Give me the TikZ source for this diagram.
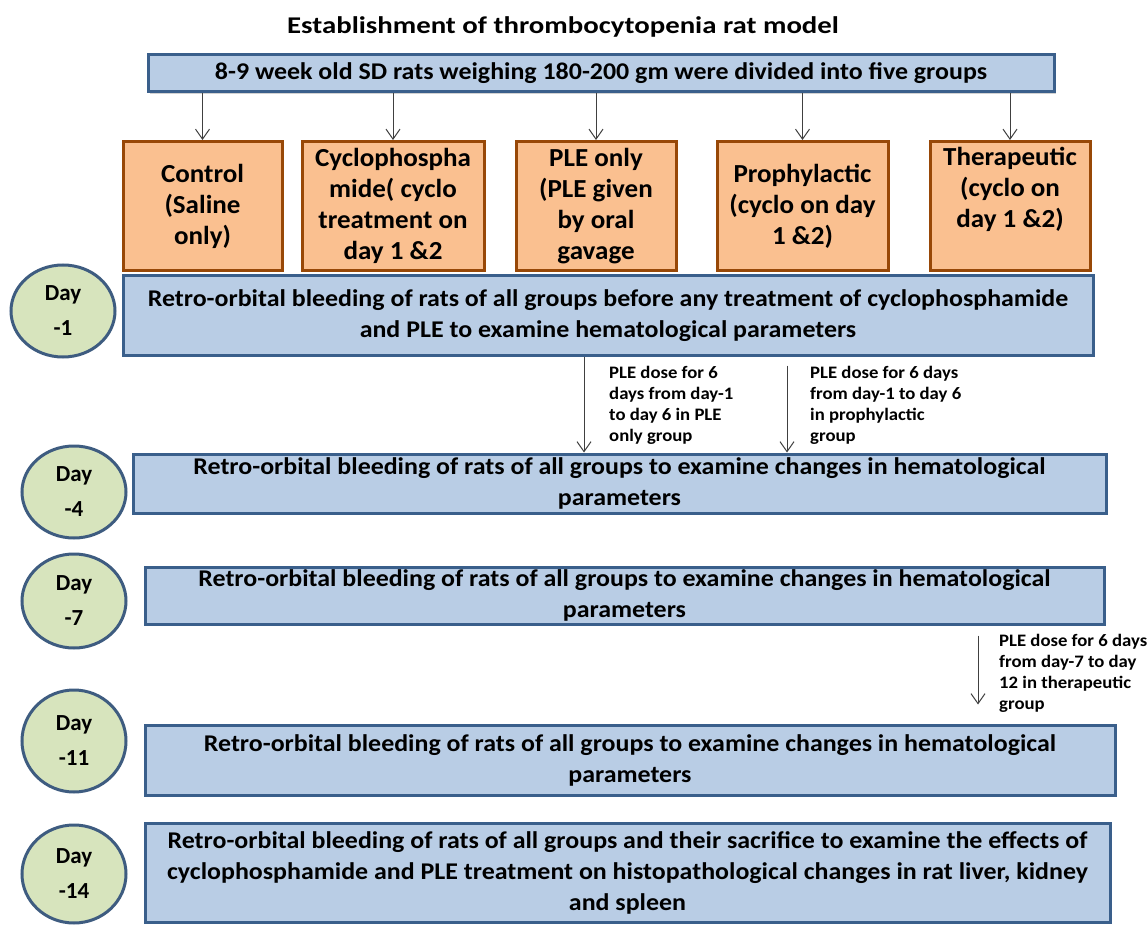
\documentclass[tikz,border=0pt]{standalone}
\usepackage{fontspec}
\setmainfont{Carlito}
\newfontfamily\boxfont{Carlito}[FakeStretch=1.08]
\newfontfamily\orfont{Carlito}[FakeStretch=1.04]
\newfontfamily\notefont{Carlito}[FakeStretch=1.07]
\newfontfamily\titlefont{Carlito}[FakeStretch=1.2]
\usetikzlibrary{arrows.meta,shadows,shapes.geometric}
\definecolor{boxblue}{HTML}{B9CDE5}
\definecolor{edgeblue}{HTML}{3A5F8B}
\definecolor{boxorange}{HTML}{FAC090}
\definecolor{edgeorange}{HTML}{984807}
\definecolor{daygreen}{HTML}{D7E4BD}
\definecolor{dayedge}{HTML}{3E5C80}
\definecolor{arrowgray}{HTML}{404040}
\tikzset{
  bluebox/.style={draw=edgeblue, fill=boxblue, line width=3pt, inner sep=0pt, align=center,
    font=\boxfont\fontsize{24}{31}\selectfont\bfseries},
  orangebox/.style={draw=edgeorange, fill=boxorange, line width=3pt, inner sep=0pt, align=center,
    minimum height=129pt, font=\orfont\fontsize{26}{31}\selectfont\bfseries},
  orangetext/.style={inner sep=0pt, align=center, font=\orfont\fontsize{26}{31}\selectfont\bfseries},
  daybubble/.style={ellipse, draw=dayedge, fill=daygreen, line width=3pt, inner sep=0pt, align=center,
    minimum width=104pt, font=\fontsize{23}{35}\selectfont\bfseries},
  flow/.style={draw=arrowgray, line width=1pt, -{Straight Barb[length=10pt,width=14pt]}},
  note/.style={anchor=north west, inner sep=0pt, align=left, font=\notefont\fontsize{17.5}{21}\selectfont\bfseries},
  titletext/.style={inner sep=0pt, anchor=base, font=\titlefont\fontsize{24}{30}\selectfont\bfseries},
}
\begin{document}
\begin{tikzpicture}[x=1pt,y=-1pt]
\useasboundingbox[fill=white] (0,0) rectangle (1148,925);

\node[titletext] (title) at (563,34) {Establishment of thrombocytopenia rat model};

\node[bluebox, minimum width=906pt, minimum height=37pt,
      drop shadow={opacity=0.35, shadow xshift=2pt, shadow yshift=-3pt}] (top) at (601,73)
  {8-9 week old SD rats weighing 180-200 gm were divided into five groups};

\node[orangebox, minimum width=159pt] (g1) at (202.5,206) {Control\\(Saline\\only)};
\node[orangebox, minimum width=182pt] (g2) at (393,206) {Cyclophospha\\mide( cyclo\\treatment on\\day 1 \&2};
\node[orangebox, minimum width=160pt] (g3) at (596,206) {PLE only\\(PLE given\\by oral\\gavage};
\node[orangebox, minimum width=171pt] (g4) at (802.5,206) {Prophylactic\\(cyclo on day\\1 \&2)};
\node[orangebox, minimum width=160pt] (g5) at (1010,206) {};
\node[orangetext, anchor=north] (g5t) at (1010,147) {Therapeutic\\(cyclo on\\day 1 \&2)};

\foreach \g in {g1,g2,g3,g4,g5}
  \draw[flow] (top.south -| \g.north) -- (\g.north);

\node[bluebox, minimum width=970pt, minimum height=79pt] (d1) at (608,315.5)
  {Retro-orbital bleeding of rats of all groups before any treatment of cyclophosphamide\\and PLE to examine hematological parameters};
\node[bluebox, minimum width=973pt, minimum height=59pt] (d4) at (619.5,483.5)
  {Retro-orbital bleeding of rats of all groups to examine changes in hematological\\parameters};
\node[bluebox, minimum width=959pt, minimum height=57pt] (d7) at (624.5,595.5)
  {Retro-orbital bleeding of rats of all groups to examine changes in hematological\\parameters};
\node[bluebox, minimum width=970pt, minimum height=70pt] (d11) at (630,760)
  {Retro-orbital bleeding of rats of all groups to examine changes in hematological\\parameters};
\node[bluebox, minimum width=965pt, minimum height=99pt] (d14) at (627.5,872.5)
  {Retro-orbital bleeding of rats of all groups and their sacrifice to examine the effects of\\cyclophosphamide and PLE treatment on histopathological changes in rat liver, kidney\\and spleen};

\node[daybubble, minimum height=92pt] (c1) at (63,311) {Day\\-1};
\node[daybubble, minimum height=92pt] (c4) at (74,492) {Day\\-4};
\node[daybubble, minimum height=94pt] (c7) at (74,601) {Day\\-7};
\node[daybubble, minimum height=102pt] (c11) at (74,741) {Day\\-11};
\node[daybubble, minimum height=98pt] (c14) at (74,874) {Day\\-14};

\coordinate (ax1) at (584,0);
\coordinate (ax2) at (787,0);
\coordinate (ax3) at (978,0);
\draw[flow] (d1.south -| ax1) -- (d4.north -| ax1);
\draw[flow, shorten <=9pt] (d1.south -| ax2) -- (d4.north -| ax2);
\draw[flow, shorten <=10pt, shorten >=19pt] (d7.south -| ax3) -- (d11.north -| ax3);

\node[note] (n1) at (609,366) {PLE dose for 6\\days from day-1\\to day 6 in PLE\\only group};
\node[note] (n2) at (810,366) {PLE dose for 6 days\\from day-1 to day 6\\in prophylactic\\group};
\node[note] (n3) at (999,634) {PLE dose for 6 days\\from day-7 to day\\12 in therapeutic\\group};
\end{tikzpicture}
\end{document}
